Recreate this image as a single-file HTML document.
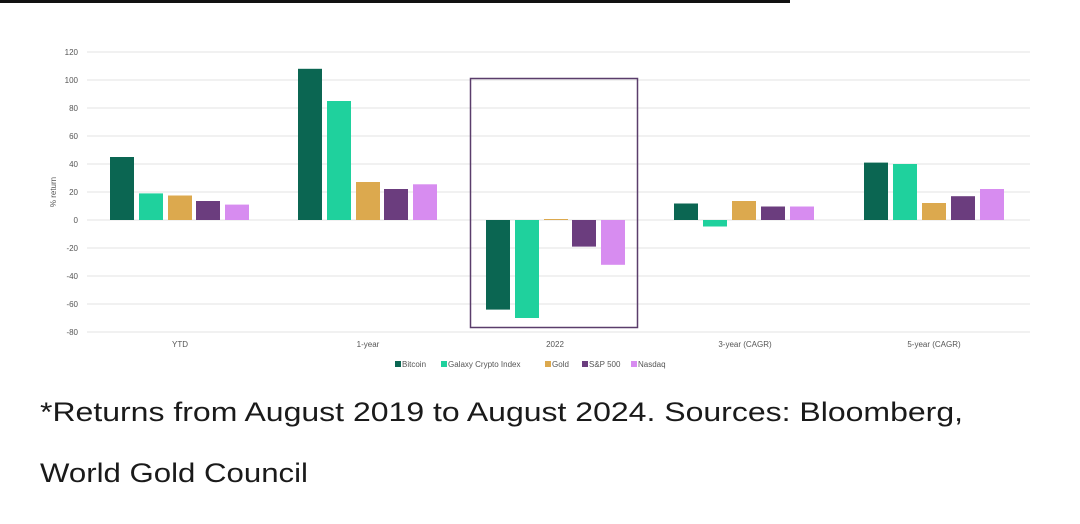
<!DOCTYPE html>
<html><head><meta charset="utf-8"><style>
html,body{margin:0;padding:0;background:#fff;width:1080px;height:524px;overflow:hidden}
svg{display:block}
</style></head><body>
<svg width="1080" height="524" viewBox="0 0 1080 524" xmlns="http://www.w3.org/2000/svg" font-family="Liberation Sans, sans-serif">
<rect x="0" y="0" width="790" height="3" fill="#111"/>
<g stroke="#e3e3e3" stroke-width="1">
<line x1="87" x2="1030" y1="52" y2="52"/><line x1="87" x2="1030" y1="80" y2="80"/>
<line x1="87" x2="1030" y1="108" y2="108"/><line x1="87" x2="1030" y1="136" y2="136"/>
<line x1="87" x2="1030" y1="164" y2="164"/><line x1="87" x2="1030" y1="192" y2="192"/>
<line x1="87" x2="1030" y1="220" y2="220"/><line x1="87" x2="1030" y1="248" y2="248"/>
<line x1="87" x2="1030" y1="276" y2="276"/><line x1="87" x2="1030" y1="304" y2="304"/>
<line x1="87" x2="1030" y1="332" y2="332"/>
</g>
<g font-size="8" fill="#555" text-anchor="end">
<text x="78" y="55">120</text><text x="78" y="83">100</text><text x="78" y="111">80</text>
<text x="78" y="139">60</text><text x="78" y="167">40</text><text x="78" y="195">20</text>
<text x="78" y="223">0</text><text x="78" y="251">-20</text><text x="78" y="279">-40</text>
<text x="78" y="307">-60</text><text x="78" y="335">-80</text>
</g>
<text x="56" y="192" font-size="8" fill="#555" text-anchor="middle" transform="rotate(-90 56 192)">% return</text>
<!-- YTD -->
<rect x="110" y="157" width="24" height="63" fill="#0b6652"/>
<rect x="139" y="193.4" width="24" height="26.6" fill="#1fd19d"/>
<rect x="168" y="195.5" width="24" height="24.5" fill="#dca94e"/>
<rect x="196" y="201" width="24" height="19" fill="#6b3d7e"/>
<rect x="225" y="204.6" width="24" height="15.4" fill="#d78cf0"/>
<!-- 1-year -->
<rect x="298" y="68.8" width="24" height="151.2" fill="#0b6652"/>
<rect x="327" y="101" width="24" height="119" fill="#1fd19d"/>
<rect x="356" y="182" width="24" height="38" fill="#dca94e"/>
<rect x="384" y="189" width="24" height="31" fill="#6b3d7e"/>
<rect x="413" y="184.3" width="24" height="35.7" fill="#d78cf0"/>
<!-- 2022 -->
<rect x="486" y="220" width="24" height="89.6" fill="#0b6652"/>
<rect x="515" y="220" width="24" height="98" fill="#1fd19d"/>
<rect x="544" y="219" width="24" height="1" fill="#dca94e"/>
<rect x="572" y="220" width="24" height="26.6" fill="#6b3d7e"/>
<rect x="601" y="220" width="24" height="44.8" fill="#d78cf0"/>
<rect x="470.5" y="78.5" width="167" height="249" fill="none" stroke="#5a3d6b" stroke-width="1.5"/>
<!-- 3-year -->
<rect x="674" y="203.5" width="24" height="16.5" fill="#0b6652"/>
<rect x="703" y="220" width="24" height="6.5" fill="#1fd19d"/>
<rect x="732" y="201" width="24" height="19" fill="#dca94e"/>
<rect x="761" y="206.5" width="24" height="13.5" fill="#6b3d7e"/>
<rect x="790" y="206.5" width="24" height="13.5" fill="#d78cf0"/>
<!-- 5-year -->
<rect x="864" y="162.6" width="24" height="57.4" fill="#0b6652"/>
<rect x="893" y="164" width="24" height="56" fill="#1fd19d"/>
<rect x="922" y="203" width="24" height="17" fill="#dca94e"/>
<rect x="951" y="196.2" width="24" height="23.8" fill="#6b3d7e"/>
<rect x="980" y="189" width="24" height="31" fill="#d78cf0"/>
<g font-size="8" fill="#555" text-anchor="middle">
<text x="180" y="347">YTD</text><text x="368" y="347">1-year</text><text x="555" y="347">2022</text>
<text x="745" y="347">3-year (CAGR)</text><text x="934" y="347">5-year (CAGR)</text>
</g>
<g font-size="8" fill="#555">
<rect x="395" y="361" width="6" height="6" fill="#0b6652"/><text x="402" y="367">Bitcoin</text>
<rect x="441" y="361" width="6" height="6" fill="#1fd19d"/><text x="448" y="367">Galaxy Crypto Index</text>
<rect x="545" y="361" width="6" height="6" fill="#dca94e"/><text x="552" y="367">Gold</text>
<rect x="582" y="361" width="6" height="6" fill="#6b3d7e"/><text x="589" y="367">S&amp;P 500</text>
<rect x="631" y="361" width="6" height="6" fill="#d78cf0"/><text x="638" y="367">Nasdaq</text>
</g>
<g font-size="27" fill="#1a1a1a">
<text x="40" y="421" textLength="923" lengthAdjust="spacingAndGlyphs">*Returns from August 2019 to August 2024. Sources: Bloomberg,</text>
<text x="40" y="482" textLength="268" lengthAdjust="spacingAndGlyphs">World Gold Council</text>
</g>
</svg>
</body></html>
